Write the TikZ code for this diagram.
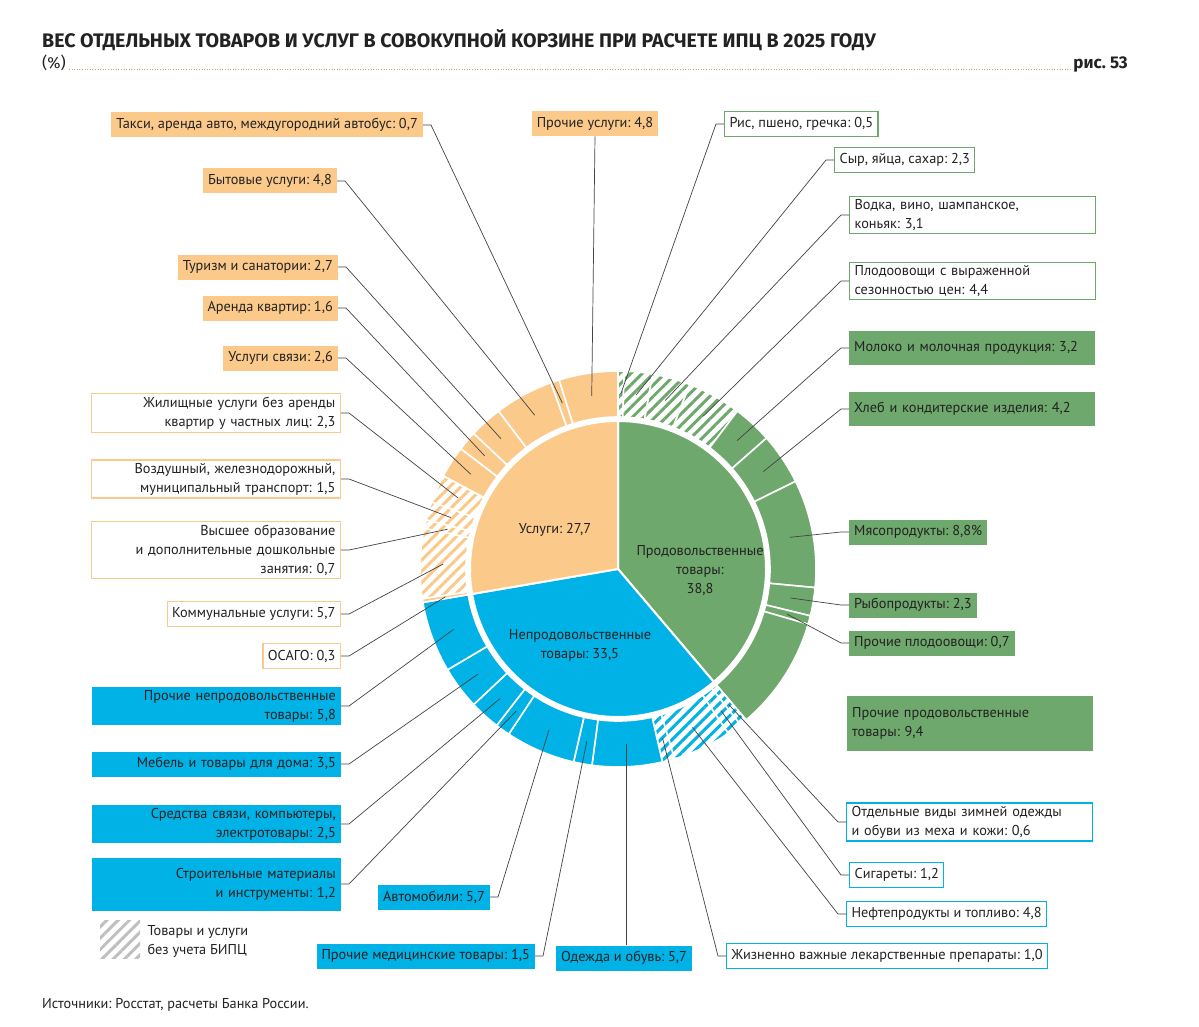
\documentclass[tikz,border=0pt]{standalone}
\usepackage{fontspec}
\setmainfont{PT Sans}
\newfontfamily\titlefont{Fira Sans}
\usetikzlibrary{calc,patterns.meta}
\definecolor{cor}{HTML}{FBC98A}
\definecolor{cgr}{HTML}{6FA86D}
\definecolor{cbl}{HTML}{00B2E6}
\definecolor{ctx}{HTML}{222222}
\newcommand\segm[3]{\path[#3,draw=white,line width=1.6pt] ($(C)+(#1:152)$) arc[start angle=#1,end angle=#2,radius=152] -- ($(C)+(#2:198)$) arc[start angle=#2,end angle=#1,radius=198] -- cycle;}
\newcommand\hseg[3]{\path[fill=white] ($(C)+(#1:152)$) arc[start angle=#1,end angle=#2,radius=152] -- ($(C)+(#2:198)$) arc[start angle=#2,end angle=#1,radius=198] -- cycle;
\segm{#1}{#2}{pattern={Lines[angle=45,distance=8pt,line width=3pt]},pattern color=#3}}
\newcommand\lpt[2]{\coordinate (#1) at ($(C)+(#2:175)$);}
\tikzset{
 x=1pt,y=1pt,
 every node/.style={font=\fontsize{14.3}{19}\selectfont,text=ctx},
 bx/.style={inner xsep=5pt,inner ysep=3pt,minimum height=25pt},
 ob/.style={bx,fill=cor},
 ow/.style={bx,draw=cor,line width=1.2pt,fill=white},
 gb/.style={bx,fill=cgr},
 gw/.style={bx,draw=cgr,line width=1.2pt,fill=white},
 bb/.style={bx,fill=cbl},
 bw/.style={bx,draw=cbl,line width=1.2pt,fill=white},
 lw/.style={text width=239pt,align=right},
 rw/.style={text width=236pt,align=left},
 lead/.style={draw=ctx!85,line width=0.7pt}
}
\begin{document}
\frenchspacing
\begin{tikzpicture}
\useasboundingbox[fill=white] (0,0) rectangle (1199,-1027);
\coordinate (C) at (618,-569);
% title
\node[anchor=base west,inner sep=0,font=\titlefont\bfseries\fontsize{19.6}{22}\selectfont] (title) at (42,-48) {ВЕС ОТДЕЛЬНЫХ ТОВАРОВ И УСЛУГ В СОВОКУПНОЙ КОРЗИНЕ ПРИ РАСЧЕТЕ ИПЦ В 2025 ГОДУ};
\node[anchor=base west,inner sep=0,font=\titlefont\fontsize{16}{18}\selectfont] (pct) at (42,-69) {(\%)};
\node[anchor=base east,inner sep=0,font=\titlefont\bfseries\fontsize{17}{18}\selectfont] (fig) at (1128,-69) {рис. 53};
\draw[cor!80!black,line width=0.6pt,dotted] (pct.base east) ++(3,0) -- ($(fig.base west)+(-3,0)$);
% pie
\path[fill=cgr,draw=white,line width=2pt] (C) -- ++(90:148) arc[start angle=90,end angle=-49.68,radius=148] -- cycle;
\path[fill=cbl,draw=white,line width=2pt] (C) -- ++(-49.68:148) arc[start angle=-49.68,end angle=-170.28,radius=148] -- cycle;
\path[fill=cor,draw=white,line width=2pt] (C) -- ++(-170.28:148) arc[start angle=-170.28,end angle=-270,radius=148] -- cycle;
\node[align=center] (pf) at ($(C)+(82,-2)$) {Продовольственные\\товары:\\38,8};
\node[align=center] (pn) at ($(C)+(-38,-76)$) {Непродовольственные\\товары: 33,5};
\node (ps) at ($(C)+(-63,39)$) {Услуги: 27,7};
% ring food
\hseg{90}{88.2}{cgr}\hseg{88.2}{79.92}{cgr}\hseg{79.92}{68.76}{cgr}\hseg{68.76}{52.92}{cgr}
\segm{52.92}{41.4}{fill=cgr}\segm{41.4}{26.28}{fill=cgr}\segm{26.28}{-5.4}{fill=cgr}
\segm{-5.4}{-13.68}{fill=cgr}\segm{-13.68}{-16.2}{fill=cgr}\segm{-16.2}{-49.68}{fill=cgr}
% ring nonfood
\hseg{-49.68}{-51.84}{cbl}\hseg{-51.84}{-56.16}{cbl}\hseg{-56.16}{-73.44}{cbl}\hseg{-73.44}{-77.04}{cbl}
\segm{-77.04}{-97.56}{fill=cbl}\segm{-97.56}{-102.96}{fill=cbl}\segm{-102.96}{-123.48}{fill=cbl}
\segm{-123.48}{-127.8}{fill=cbl}\segm{-127.8}{-136.8}{fill=cbl}\segm{-136.8}{-149.4}{fill=cbl}\segm{-149.4}{-170.28}{fill=cbl}
% ring services
\segm{-170.28}{-171.36}{fill=cor}
\hseg{-171.36}{-191.88}{cor}\hseg{-191.88}{-194.4}{cor}\hseg{-194.4}{-199.8}{cor}\hseg{-199.8}{-208.08}{cor}
\segm{-208.08}{-217.44}{fill=cor}\segm{-217.44}{-223.2}{fill=cor}\segm{-223.2}{-232.92}{fill=cor}
\segm{-232.92}{-250.2}{fill=cor}\segm{-250.2}{-252.72}{fill=cor}\segm{-252.72}{-270}{fill=cor}
% leader points
\lpt{pRis}{89.1}\lpt{pSyr}{84.06}\lpt{pVod}{74.34}\lpt{pPlod}{60.84}\lpt{pMol}{47.16}\lpt{pHleb}{33.84}
\lpt{pMyas}{10.44}\lpt{pRyb}{-9.54}\lpt{pPpl}{-14.94}
\lpt{pZim}{-50.76}\lpt{pSig}{-54}\lpt{pNeft}{-64.8}\lpt{pZhn}{-75.24}\lpt{pOde}{-87.3}\lpt{pMed}{-100.26}
\lpt{pAvt}{-113.22}\lpt{pStr}{-125.64}\lpt{pSvz}{-132.3}\lpt{pMeb}{-143.1}\lpt{pPnp}{-159.84}
\lpt{pOsa}{-170.82}\lpt{pKom}{-181.62}\lpt{pVys}{-193.14}\lpt{pVoz}{-197.1}\lpt{pZhil}{-203.94}
\lpt{pUsv}{-212.76}\lpt{pAr}{-220.32}\lpt{pTur}{-228.06}\lpt{pByt}{-241.56}\lpt{pTax}{-251.46}\lpt{pPu}{-261.36}
% left boxes (services)
\node[ob,anchor=east] (tax) at (423,-125) {Такси, аренда авто, междугородний автобус: 0,7};
\node[ob,anchor=east] (byt) at (337,-181) {Бытовые услуги: 4,8};
\node[ob,anchor=east] (tur) at (338,-267) {Туризм и санатории: 2,7};
\node[ob,anchor=east] (ar) at (338,-308) {Аренда квартир: 1,6};
\node[ob,anchor=east] (usv) at (338,-358) {Услуги связи: 2,6};
\node[ob,anchor=north] (pu) at (595,-111) {Прочие услуги: 4,8};
\node[ow,lw,anchor=east] (zhil) at (341,-413) {Жилищные услуги без аренды\\квартир у частных лиц: 2,3};
\node[ow,lw,anchor=east] (voz) at (341,-479) {Воздушный, железнодорожный,\\муниципальный транспорт: 1,5};
\node[ow,lw,anchor=east] (vys) at (341,-550) {Высшее образование\\и дополнительные дошкольные\\занятия: 0,7};
\node[ow,anchor=east] (kom) at (341,-614) {Коммунальные услуги: 5,7};
\node[ow,anchor=east] (osa) at (341,-656) {ОСАГО: 0,3};
% left boxes (nonfood)
\node[bb,lw,anchor=east] (pnp) at (341,-706) {Прочие непродовольственные\\товары: 5,8};
\node[bb,lw,anchor=east] (meb) at (341,-764) {Мебель и товары для дома: 3,5};
\node[bb,lw,anchor=east] (svz) at (341,-824) {Средства связи, компьютеры,\\электротовары: 2,5};
\node[bb,lw,anchor=east,minimum height=53pt] (str) at (341,-884) {Строительные материалы\\и инструменты: 1,2};
\node[bb,anchor=east] (avt) at (490,-897) {Автомобили: 5,7};
\node[bb,anchor=east] (med) at (535,-956) {Прочие медицинские товары: 1,5};
\node[bb,anchor=west] (ode) at (556,-958) {Одежда и обувь: 5,7};
\node[bw,anchor=west] (zhn) at (726,-956) {Жизненно важные лекарственные препараты: 1,0};
\node[bw,anchor=west] (neft) at (846,-914) {Нефтепродукты и топливо: 4,8};
\node[bw,anchor=west] (sig) at (849,-875) {Сигареты: 1,2};
\node[bw,rw,anchor=west] (zim) at (846,-822) {Отдельные виды зимней одежды\\и обуви из меха и кожи: 0,6};
% right boxes (food)
\node[gb,rw,anchor=west,minimum height=55pt] (ppr) at (847,-723) {Прочие продовольственные\\товары: 9,4};
\node[gb,anchor=west] (ppl) at (849,-643) {Прочие плодоовощи: 0,7};
\node[gb,anchor=west] (ryb) at (849,-605) {Рыбопродукты: 2,3};
\node[gb,anchor=west] (myas) at (849,-532) {Мясопродукты: 8,8\%};
\node[gb,rw,anchor=west,minimum height=34pt] (hleb) at (849,-409) {Хлеб и кондитерские изделия: 4,2};
\node[gb,rw,anchor=west,minimum height=34pt] (mol) at (849,-348) {Молоко и молочная продукция: 3,2};
\node[gw,rw,anchor=west] (plod) at (849,-281) {Плодоовощи с выраженной\\сезонностью цен: 4,4};
\node[gw,rw,anchor=west] (vod) at (849,-215) {Водка, вино, шампанское,\\коньяк: 3,1};
\node[gw,anchor=west] (syr) at (834,-160) {Сыр, яйца, сахар: 2,3};
\node[gw,anchor=west] (ris) at (724,-124) {Рис, пшено, гречка: 0,5};
% leaders
\foreach \b/\p in {tax/pTax,byt/pByt,tur/pTur,ar/pAr,usv/pUsv,zhil/pZhil,voz/pVoz,vys/pVys,kom/pKom,osa/pOsa,pnp/pPnp,meb/pMeb,svz/pSvz,str/pStr,avt/pAvt,med/pMed}
  \draw[lead] (\b.east) -- ++(8,0) -- (\p);
\foreach \b/\p in {zhn/pZhn,neft/pNeft,sig/pSig,zim/pZim,ppl/pPpl,ryb/pRyb,myas/pMyas,hleb/pHleb,mol/pMol,plod/pPlod,vod/pVod,syr/pSyr,ris/pRis}
  \draw[lead] (\b.west) -- ++(-8,0) -- (\p);
\draw[lead] (pu.south) -- (pPu);
\draw[lead] (ode.north -| pOde) -- (pOde);
% legend
\path[fill=white] (100,-920) rectangle (140,-958);
\path[pattern={Lines[angle=45,distance=8pt,line width=3pt]},pattern color=gray!50] (100,-920) rectangle (140,-958);
\node[anchor=west,align=left] (leg) at (144,-941) {Товары и услуги\\без учета БИПЦ};
\node[anchor=base west,inner sep=0] (src) at (42,-1008) {Источники: Росстат, расчеты Банка России.};
\end{tikzpicture}
\end{document}
